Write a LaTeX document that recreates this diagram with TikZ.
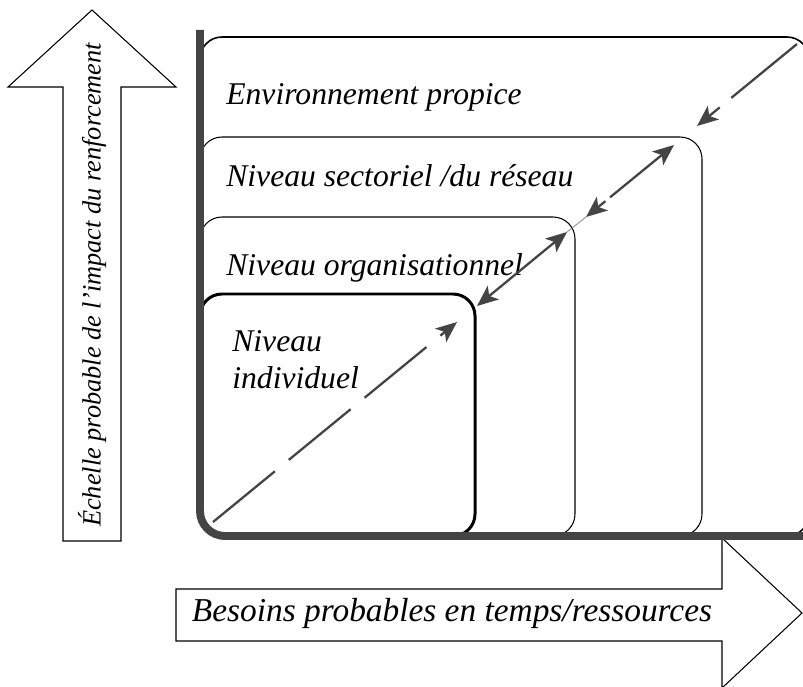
\documentclass[tikz,border=0pt]{standalone}
\usepackage{fontspec}
\setmainfont{Liberation Serif}
\usepackage{xcolor}
\usetikzlibrary{arrows.meta}

\definecolor{axisgray}{HTML}{444444}

\tikzset{
    level/.style={draw=black, rounded corners=0.44cm},
    lvltext/.style={anchor=base west, inner sep=0pt, font=\itshape\fontsize{18}{20.5}\selectfont},
    blockarrow/.style={draw=black, line width=0.6pt, fill=white},
    diag/.style={draw=axisgray, line width=1.3pt},
    >={Stealth[length=12pt, width=10pt, inset=3pt]}
}

\begin{document}
\begin{tikzpicture}[x=0.02cm, y=-0.02cm]
    \useasboundingbox (0,0) rectangle (803,686);

    % Block arrows
    \draw[blockarrow] (63,541) -- (63,87) -- (8,87) -- (92,10) -- (176,87)
        -- (121,87) -- (121,541) -- cycle;
    \node[rotate=90, font=\itshape\fontsize{15}{18}\selectfont] (impact) at (92,285)
        {Échelle probable de l'impact du renforcement};
    \draw[blockarrow] (176,589) -- (722,589) -- (722,538) -- (802,613)
        -- (722,688) -- (722,641) -- (176,641) -- cycle;
    \node[font=\itshape\fontsize{19}{22}\selectfont] (besoins) at (452,613)
        {Besoins probables en temps/ressources};

    % Levels
    \draw[level, line width=0.9pt] (200,536) rectangle (809,37);
    \draw[level, line width=0.6pt] (200,536) rectangle (702,137);
    \draw[level, line width=0.6pt] (200,536) rectangle (575,217);
    \draw[level, line width=1.7pt] (200,536) rectangle (475,294);

    \node[lvltext] (env) at (226,104) {Environnement propice};
    \node[lvltext] (sect) at (226,186) {Niveau sectoriel /du réseau};
    \node[lvltext] (org) at (226,275) {Niveau organisationnel};
    \node[lvltext, align=left] (indiv) at (232,388) {Niveau\\individuel};

    % Axes
    \draw[axisgray, line width=4.5pt, rounded corners=0.5cm] (200,30) -- (200,536) -- (803,536);

    % Diagonal
    \coordinate (o) at (213,522);
    \coordinate (a1) at (457,322);
    \coordinate (a2) at (477,306);
    \coordinate (a3) at (567,232);
    \coordinate (a4) at (586,217);
    \coordinate (a5) at (674,145);
    \coordinate (a6) at (697,126);
    \coordinate (a7) at (797,44);

    \draw[diag, ->, dash pattern=on 1.6cm off 0.36cm] (o) -- (a1);
    \draw[diag, <->] (a2) -- (a3);
    \draw[axisgray!60, line width=0.5pt] (a3) -- (a4);
    \draw[diag, <->, dash pattern=on 0.2cm off 0.12cm on 4cm] (a4) -- (a5);
    \draw[diag, ->, dash pattern=on 1.7cm off 0.3cm] (a7) -- (a6);
\end{tikzpicture}
\end{document}
